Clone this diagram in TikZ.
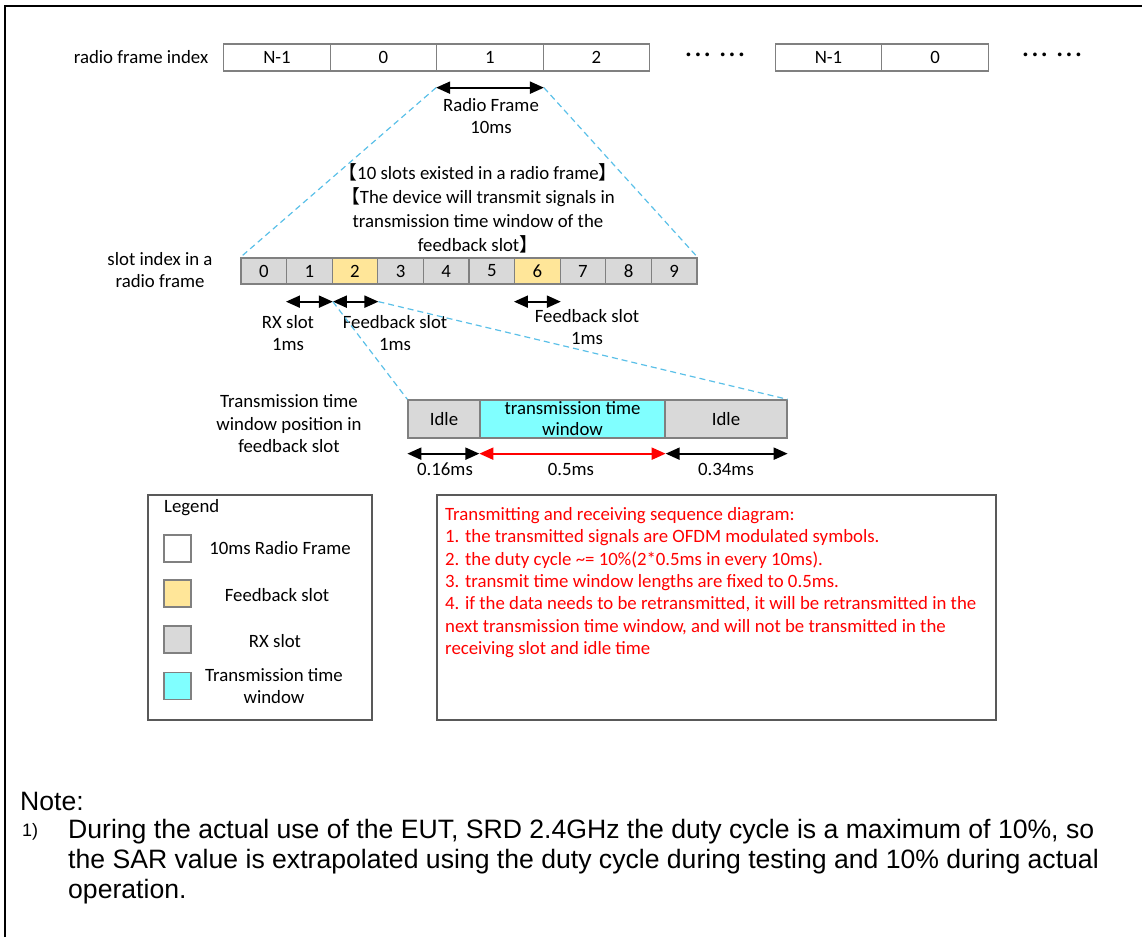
\documentclass[tikz,border=0pt]{standalone}
\usepackage{fontspec}
\setmainfont{Carlito}
\newfontfamily\cjk{Noto Sans CJK SC}
\newfontfamily\notefont{Liberation Sans}
\usetikzlibrary{arrows.meta}

\definecolor{fbyellow}{HTML}{FFE699}
\definecolor{rxgray}{HTML}{D9D9D9}
\definecolor{txcyan}{HTML}{80FFFF}
\definecolor{cellline}{HTML}{808080}
\definecolor{boxline}{HTML}{595959}
\definecolor{zoomblue}{HTML}{5BC0E8}

\newcommand{\framedots}{·\kern4pt·\kern4pt·\kern10pt·\kern4pt·\kern4pt·}

\tikzset{
  frame/.style={draw=cellline, fill=white, line width=1.3pt, minimum width=106.5pt,
    minimum height=27pt, inner sep=0pt, font=\fontsize{18.8}{22}\selectfont},
  slot/.style={draw=cellline, fill=rxgray, line width=1.3pt, minimum width=45.6pt,
    minimum height=26pt, inner sep=0pt, font=\fontsize{18.8}{22}\selectfont},
  fbslot/.style={slot, fill=fbyellow},
  lbl/.style={align=center, inner sep=0pt, font=\fontsize{18.8}{22.5}\selectfont},
  dur/.style={line width=2pt, {Triangle[length=14pt,width=12pt]}-{Triangle[length=14pt,width=12pt]}},
  zoomline/.style={draw=zoomblue, line width=1.2pt, dash pattern=on 6pt off 4pt},
  swatch/.style={draw=cellline, line width=1.3pt, minimum size=27pt, inner sep=0pt},
  bigbox/.style={draw=boxline, line width=1.4pt, inner sep=0pt}
}

\begin{document}
\begin{tikzpicture}[x=1pt,y=-1pt]
\useasboundingbox (0,0) rectangle (1142,937);
\draw[line width=2pt] (5,937) -- (5,6) -- (1142,6);

% radio frames
\node[lbl] (fidx) at (141,57) {radio frame index};
\node[frame] (f0) at (277,57.5) {N-1};
\node[frame] (f1) at (383.5,57.5) {0};
\node[frame] (f2) at (490,57.5) {1};
\node[frame] (f3) at (596.5,57.5) {2};
\node[lbl, font=\bfseries\fontsize{20}{24}\selectfont] (dots0) at (715,57) {\framedots};
\node[frame] (f4) at (828.5,57.5) {N-1};
\node[frame] (f5) at (935,57.5) {0};
\node[lbl, font=\bfseries\fontsize{20}{24}\selectfont] (dots1) at (1052,57) {\framedots};

\coordinate (rf0) at ([yshift=-16pt]f2.south west);
\coordinate (rf1) at ([yshift=-16pt]f2.south east);
\draw[dur] (rf0) -- (rf1);
\node[lbl] (rflbl) at (491,116) {Radio Frame\\10ms};

% slots of one frame
\node[lbl] (sidx) at (160,270) {slot index in a\\radio frame};
\node[slot] (s0) at (263.8,271) {0};
\node[slot] (s1) at (309.4,271) {1};
\node[fbslot] (s2) at (355,271) {2};
\node[slot] (s3) at (400.6,271) {3};
\node[slot] (s4) at (446.2,271) {4};
\node[slot] (s5) at (491.8,271) {5};
\node[fbslot] (s6) at (537.4,271) {6};
\node[slot] (s7) at (583,271) {7};
\node[slot] (s8) at (628.6,271) {8};
\node[slot] (s9) at (674.2,271) {9};
\draw[zoomline] (rf0) -- (s0.north west);
\draw[zoomline] (rf1) -- (s9.north east);
\node[lbl, font=\fontsize{18.8}{24}\selectfont] (slotnote) at (478,208)
  {{\cjk 【}10 slots existed in a radio frame{\cjk 】}\\
   {\cjk 【}The device will transmit signals in\\
   transmission time window of the\\
   feedback slot{\cjk 】}};

\coordinate (a0) at ([yshift=-17pt]s1.south west);
\coordinate (a1) at ([yshift=-17pt]s1.south east);
\coordinate (a2) at ([yshift=-17pt]s2.south east);
\coordinate (a3) at ([yshift=-17pt]s6.south west);
\coordinate (a4) at ([yshift=-17pt]s6.south east);
\draw[dur] (a0) -- (a1);
\draw[dur] (a1) -- (a2);
\draw[dur] (a3) -- (a4);
\node[lbl] (rxlbl) at (288,333) {RX slot\\1ms};
\node[lbl] (fblbl0) at (395,333) {Feedback slot\\1ms};
\node[lbl] (fblbl1) at (587,327) {Feedback slot\\1ms};

% window inside the feedback slot
\node[lbl] (wlbl) at (289,424) {Transmission time\\window position in\\feedback slot};
\node[slot, minimum width=72pt, minimum height=38pt] (w0) at (444,419) {Idle};
\node[slot, fill=txcyan, minimum width=185pt, minimum height=38pt, align=center,
  font=\fontsize{18.8}{21}\selectfont] (w1) at (572.5,419) {transmission time\\window};
\node[slot, minimum width=122pt, minimum height=38pt] (w2) at (726,419) {Idle};
\draw[zoomline] (a1) -- (w0.north west);
\draw[zoomline] (a2) -- (w2.north east);

\coordinate (b0) at ([yshift=-15pt]w0.south west);
\coordinate (b1) at ([yshift=-15pt]w1.south west);
\coordinate (b2) at ([yshift=-15pt]w1.south east);
\coordinate (b3) at ([yshift=-15pt]w2.south east);
\draw[dur] (b0) -- (b1);
\draw[dur, red] (b1) -- (b2);
\draw[dur] (b2) -- (b3);
\node[lbl] (t0) at (445,469) {0.16ms};
\node[lbl] (t1) at (571,469) {0.5ms};
\node[lbl] (t2) at (726,469) {0.34ms};

% legend
\node[bigbox, minimum width=224pt, minimum height=225pt] (legend) at (260,607.5) {};
\node[lbl, anchor=west] (leghead) at (164,508) {Legend};
\node[swatch, fill=white] (k0) at (177.5,548.5) {};
\node[swatch, fill=fbyellow] (k1) at (177.5,593.5) {};
\node[swatch, fill=rxgray] (k2) at (177.5,639.5) {};
\node[swatch, fill=txcyan] (k3) at (177.5,686) {};
\node[lbl] (kl0) at (280,548) {10ms Radio Frame};
\node[lbl] (kl1) at (277,595) {Feedback slot};
\node[lbl] (kl2) at (275,641) {RX slot};
\node[lbl] (kl3) at (274,686) {Transmission time\\window};

% sequence description
\node[bigbox, minimum width=559pt, minimum height=225pt] (seq) at (716.5,607.5) {};
\node[lbl, anchor=north west, align=left, text=red, font=\fontsize{18.8}{22.4}\selectfont]
  (seqtext) at (445,507)
  {Transmitting and receiving sequence diagram:\\
   1. the transmitted signals are OFDM modulated symbols.\\
   2. the duty cycle \textasciitilde= 10\%(2*0.5ms in every 10ms).\\
   3. transmit time window lengths are fixed to 0.5ms.\\
   4. if the data needs to be retransmitted, it will be retransmitted in the\\
   next transmission time window, and will not be transmitted in the\\
   receiving slot and idle time};

% note
\node[anchor=west, inner sep=0pt, font=\notefont\fontsize{26.6}{30}\selectfont] (note) at (20,801) {Note:};
\node[anchor=west, inner sep=0pt, font=\notefont\fontsize{18}{20}\selectfont] (note1) at (22,832) {1)};
\node[anchor=north west, align=left, inner sep=0pt, font=\notefont\fontsize{26.6}{30}\selectfont]
  (notetext) at (68,819)
  {During the actual use of the EUT, SRD 2.4GHz the duty cycle is a maximum of 10\%, so\\
   the SAR value is extrapolated using the duty cycle during testing and 10\% during actual\\
   operation.};
\end{tikzpicture}
\end{document}
